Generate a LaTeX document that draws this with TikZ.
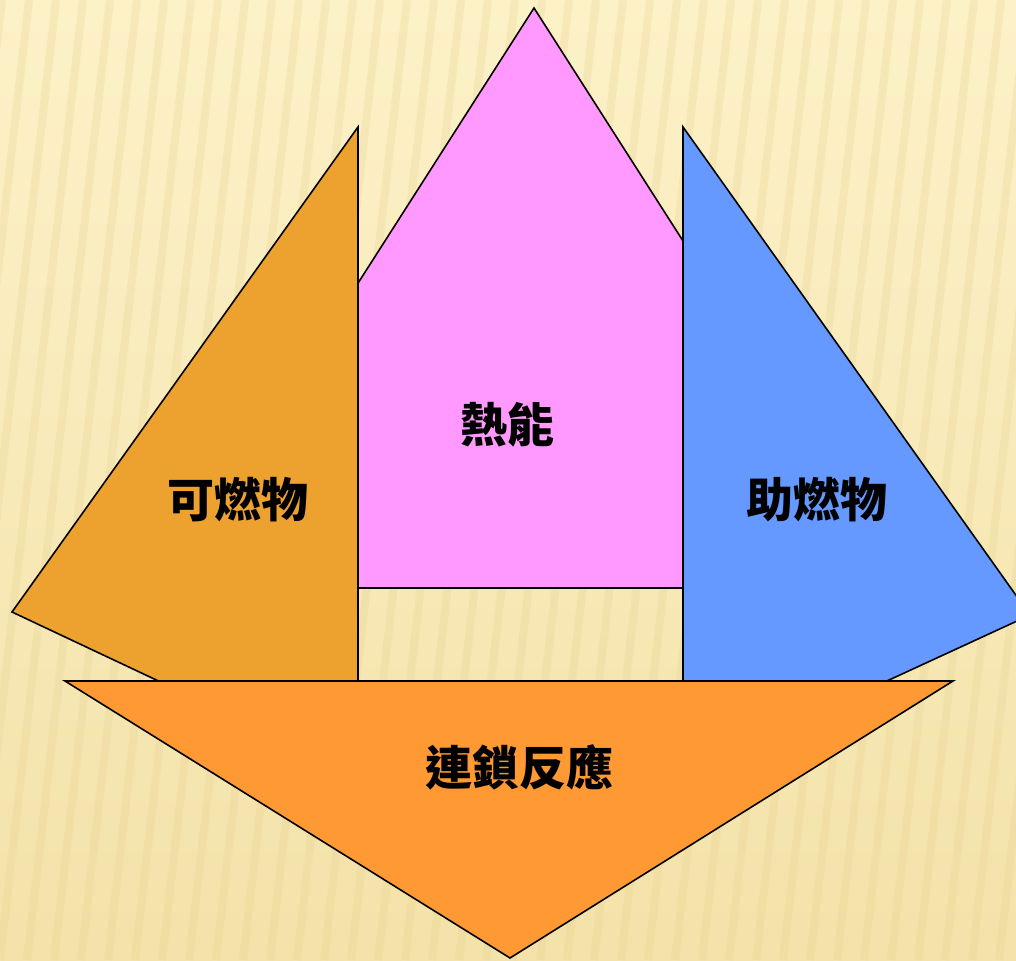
\documentclass[tikz,border=0pt]{standalone}
\usepackage{fontspec}
\newfontfamily\cjk{Noto Sans CJK TC}
\usetikzlibrary{shapes.geometric}
\definecolor{bgtop}{HTML}{FDF1C8}
\definecolor{bgbot}{HTML}{F3E2A9}
\definecolor{stripe}{HTML}{E6D08E}
\definecolor{fuelc}{HTML}{EDA22F}
\definecolor{heatc}{HTML}{FF99FF}
\definecolor{oxyc}{HTML}{6699FF}
\definecolor{chainc}{HTML}{FF9933}
\tikzset{
  shapeline/.style={draw=black, line width=1.6pt, line join=miter},
  lbl/.style={font=\cjk\bfseries\fontsize{47}{52}\selectfont, text=black, inner sep=0pt},
  stripeline/.style={draw=stripe, line width=8pt, opacity=0.25}
}
\begin{document}
\begin{tikzpicture}[x=1pt,y=-1pt]
\useasboundingbox (0,0) rectangle (1016,960);
\begin{scope}
\clip (0,0) rectangle (1016,960);
\shade[top color=bgtop, bottom color=bgbot] (0,0) rectangle (1016,960);
\foreach \i in {-8,...,42} {
  \draw[stripeline] ({\i*27},960) -- ({\i*27+110},0);
}
% heat (pink) triangle, partly covered
\filldraw[shapeline, fill=heatc] (163,588) -- (534,8) -- (905,588) -- cycle;
% fuel (left)
\filldraw[shapeline, fill=fuelc] (358,127) -- (12,612) -- (358,775) -- cycle;
% oxygen (right)
\filldraw[shapeline, fill=oxyc] (683,127) -- (1030,615) -- (683,775) -- cycle;
% chain reaction (bottom)
\filldraw[shapeline, fill=chainc] (65,681) -- (953,681) -- (510,958) -- cycle;
\end{scope}
\node[lbl] (heat) at (507,425) {熱能};
\node[lbl] (fuel) at (238,500) {可燃物};
\node[lbl] (oxy) at (817,500) {助燃物};
\node[lbl] (chain) at (519,767) {連鎖反應};
\end{tikzpicture}
\end{document}
